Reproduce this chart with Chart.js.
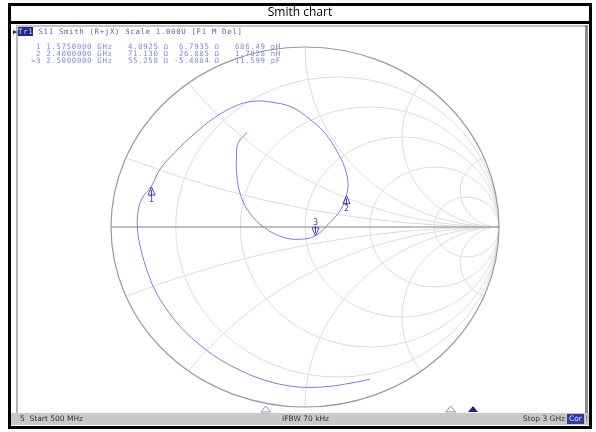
<!DOCTYPE html>
<html>
<head>
<meta charset="utf-8">
<script src="https://cdn.jsdelivr.net/npm/chart.js@4.4.1/dist/chart.umd.min.js"></script>
<style>
  html, body { margin: 0; padding: 0; background: #fff; }
  #wrap { position: relative; width: 596px; height: 432px; overflow: hidden; }
  #frame { position: absolute; left: 8px; top: 3px; width: 584px; height: 426px; box-sizing: border-box; border: 3px solid #000; }
  #sep { position: absolute; left: 8px; top: 21px; width: 584px; height: 3px; background: #000; }
  #title { position: absolute; left: 8px; top: 4px; width: 584px; text-align: center; font: 12px "Open Sans", sans-serif; line-height: 16px; color: #000; }
  #bezelL { position: absolute; left: 16px; top: 25px; width: 2px; height: 388px; background: #b8b8b8; }
  #bezelT { position: absolute; left: 16px; top: 25px; width: 571px; height: 2px; background: #c4c4c4; }
  #bezelR { position: absolute; left: 585px; top: 25px; width: 3px; height: 388px; background: #8c8c8c; }
  #status { position: absolute; left: 11px; top: 413px; width: 578px; height: 12px; background: #c8c8c8; font: 7.5px "DejaVu Sans", sans-serif; color: #333; line-height: 12px; }
  #status span { position: absolute; top: 0; white-space: pre; }
  #status .cor { background: #2c3c9c; color: #dfe4ff; padding: 0 2px; line-height: 10px; top: 1px; }
  canvas { position: absolute; left: 0; top: 0; }
  .mono { position: absolute; font: 7.4px "DejaVu Sans Mono", monospace; letter-spacing: 0.65px; white-space: pre; }
  #hdr { left: 13px; top: 27px; color: #5a64b4; line-height: 9px; }
  #hdr .arr { color: #1c2480; }
  #hdr .tr { background: #1c2a8c; color: #cfd6ff; }
  #mk { left: 31px; top: 43px; color: #8088dc; line-height: 7px; }
</style>
</head>
<body>
<div id="wrap">
  <div id="bezelL"></div>
  <div id="bezelT"></div>
  <div id="bezelR"></div>
  <canvas id="c" width="596" height="432"></canvas>
  <div id="frame"></div>
  <div id="sep"></div>
  <div id="title">Smith chart</div>
  <div id="hdr" class="mono"><span class="arr">▶</span><span class="tr">Tr1</span> S11 Smith (R+jX) Scale 1.000U [F1 M Del]</div>
  <div id="mk" class="mono"></div>
  <div id="status">
    <span style="left:9px">5  Start 500 MHz</span>
    <span style="left:271px">IFBW 70 kHz</span>
    <span style="left:512px">Stop 3 GHz</span>
    <span class="cor" style="left:556px">Cor</span>
    <span style="left:574px;color:#666">!</span>
  </div>
</div>
<script>
// grid values (normalised to Z0)
const resistanceCircles = [0.2, 0.5, 1, 2, 5];
const reactanceArcs = [0.2, 0.5, 1, 2, 5];

const traceRe = [0.335, 0.232, 0.129, 0.010, -0.103, -0.222, -0.335, -0.448, -0.552, -0.644, -0.716,
  -0.773, -0.814, -0.845, -0.863, -0.861, -0.840, -0.794, -0.747, -0.670, -0.567, -0.464, -0.361,
  -0.273, -0.170, -0.067, 0.026, 0.103, 0.165, 0.206, 0.222, 0.213, 0.186, 0.129, 0.053, -0.026,
  -0.113, -0.211, -0.284, -0.330, -0.351, -0.353, -0.345, -0.299];
const traceIm = [-0.846, -0.868, -0.885, -0.891, -0.879, -0.846, -0.796, -0.729, -0.646, -0.552, -0.452,
  -0.352, -0.241, -0.129, -0.018, 0.082, 0.159, 0.222, 0.321, 0.415, 0.521, 0.609, 0.671,
  0.698, 0.693, 0.665, 0.598, 0.521, 0.421, 0.326, 0.237, 0.175, 0.098, 0.026, -0.049, -0.068,
  -0.057, -0.002, 0.076, 0.171, 0.282, 0.387, 0.465, 0.526];

// markers
const markerNum = ['1', '2', '3'];
const markerFreqGHz = [1.575, 2.4, 2.5];
const markerR = [4.8925, 71.130, 55.258];
const markerX = [6.7935, 26.885, -5.4884];
const markerLC = ['686.49 pH', '1.7828 nH', '11.599 pF'];
const markerActive = [false, false, true];
const markerPointsUp = [true, true, false];
const z0 = 50;
const startGHz = 0.5, stopGHz = 3;

function gamma(r, x) {
  const d = (r + 1) * (r + 1) + x * x;
  return { x: (r * r + x * x - 1) / d, y: 2 * x / d };
}

// marker readout lines
document.getElementById('mk').textContent = markerNum.map((n, i) =>
  (markerActive[i] ? '>' : ' ') + n + ' ' + markerFreqGHz[i].toFixed(7) + ' GHz' +
  '  ' + markerR[i].toPrecision(5).padStart(7) + ' \u03A9' +
  ' ' + markerX[i].toPrecision(5).padStart(7) + ' \u03A9' +
  '   ' + markerLC[i]
).join('\n');

const smithGrid = {
  id: 'smithGrid',
  beforeDatasetsDraw(chart) {
    const { ctx, scales: { x, y } } = chart;
    const cx = x.getPixelForValue(0), cy = y.getPixelForValue(0);
    const rx = x.getPixelForValue(1) - cx, ry = cy - y.getPixelForValue(1);
    ctx.save();
    ctx.beginPath();
    ctx.ellipse(cx, cy, rx, ry, 0, 0, Math.PI * 2);
    ctx.clip();
    ctx.strokeStyle = '#dcdcdc';
    ctx.lineWidth = 1;
    resistanceCircles.forEach(r => {
      const rad = 1 / (r + 1);
      ctx.beginPath();
      ctx.ellipse(x.getPixelForValue(r / (r + 1)), cy, rad * rx, rad * ry, 0, 0, Math.PI * 2);
      ctx.stroke();
    });
    reactanceArcs.forEach(v => [v, -v].forEach(xx => {
      const rad = 1 / Math.abs(xx);
      ctx.beginPath();
      ctx.ellipse(x.getPixelForValue(1), y.getPixelForValue(1 / xx), rad * rx, rad * ry, 0, 0, Math.PI * 2);
      ctx.stroke();
    }));
    ctx.restore();

    // real axis
    ctx.save();
    ctx.strokeStyle = '#ababab';
    ctx.lineWidth = 1.5;
    ctx.beginPath();
    ctx.moveTo(x.getPixelForValue(-1), cy);
    ctx.lineTo(x.getPixelForValue(1), cy);
    ctx.stroke();
    // unit circle
    ctx.strokeStyle = '#9a9a9a';
    ctx.lineWidth = 1.2;
    ctx.beginPath();
    ctx.ellipse(cx, cy, rx, ry, 0, 0, Math.PI * 2);
    ctx.stroke();
    ctx.restore();
  },
  afterDatasetsDraw(chart) {
    const { ctx } = chart;
    const meta = chart.getDatasetMeta(1);
    ctx.save();
    ctx.strokeStyle = '#4646b4';
    ctx.fillStyle = '#4646b4';
    ctx.lineWidth = 1;
    ctx.font = '8px "DejaVu Sans", sans-serif';
    ctx.textAlign = 'center';
    ctx.textBaseline = 'middle';
    meta.data.forEach((pt, i) => {
      const s = markerPointsUp[i] ? 1 : -1;
      const px = Math.round(pt.x) + 0.5, py = pt.y;
      ctx.beginPath();
      ctx.moveTo(px, py);
      ctx.lineTo(px - 3.5, py + s * 8);
      ctx.lineTo(px + 3.5, py + s * 8);
      ctx.closePath();
      ctx.moveTo(px, py + s * 3);
      ctx.lineTo(px, py + s * 10);
      ctx.stroke();
      ctx.fillText(markerNum[i], px, py + s * 13);
    });
    ctx.restore();
  },
  afterDraw(chart) {
    // stimulus marker indicators along the bottom
    const { ctx } = chart;
    ctx.save();
    markerFreqGHz.forEach((f, i) => {
      const sx = 25 + (f - startGHz) / (stopGHz - startGHz) * 560;
      ctx.beginPath();
      ctx.moveTo(sx, 406);
      ctx.lineTo(sx - 5, 412);
      ctx.lineTo(sx + 5, 412);
      ctx.closePath();
      if (markerActive[i]) {
        ctx.fillStyle = '#1c2480';
        ctx.fill();
      } else {
        ctx.strokeStyle = '#8c8cc4';
        ctx.lineWidth = 1;
        ctx.stroke();
      }
    });
    ctx.restore();
  }
};

new Chart(document.getElementById('c'), {
  type: 'scatter',
  data: {
    datasets: [{
      data: traceRe.map((v, i) => ({ x: v, y: traceIm[i] })),
      showLine: true,
      borderColor: '#7c7ce2',
      borderWidth: 1,
      pointRadius: 0,
      tension: 0.4
    }, {
      data: markerR.map((r, i) => gamma(r / z0, markerX[i] / z0)),
      showLine: false,
      pointRadius: 0
    }]
  },
  options: {
    responsive: false,
    animation: false,
    layout: { padding: { left: 111, right: 97, top: 47, bottom: 25 } },
    plugins: { legend: { display: false }, tooltip: { enabled: false } },
    scales: {
      x: { type: 'linear', min: -1, max: 1, display: false },
      y: { type: 'linear', min: -1, max: 1, display: false }
    }
  },
  plugins: [smithGrid]
});
</script>
</body>
</html>
